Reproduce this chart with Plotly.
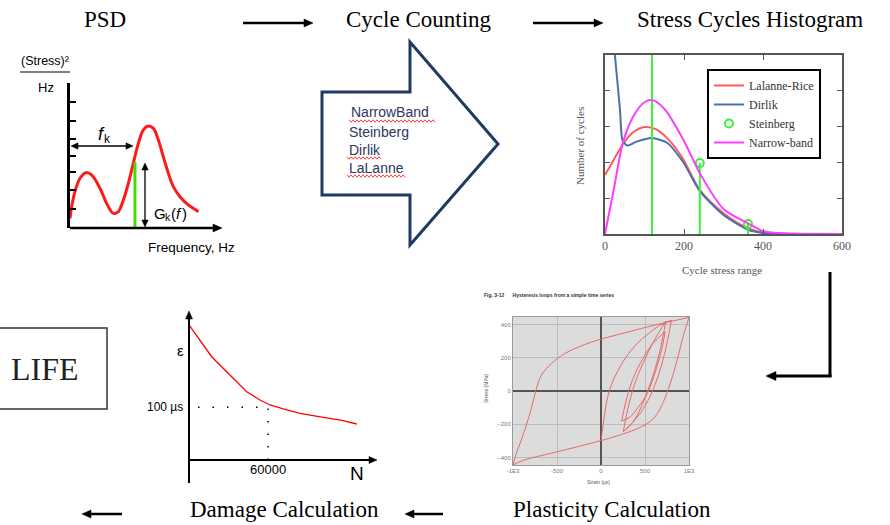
import math
import plotly.graph_objects as go

W, H = 890, 525
SERIF = "Liberation Serif"
SANS = "Liberation Sans"

# ---------------- data ----------------
# PSD sketch (frequency in arbitrary units, PSD amplitude in arbitrary units)
psd_freq = [0, 1.1, 3.3, 6.7, 10.7, 14.4, 20.0, 24.4, 28.9, 32.2, 35.6, 38.9, 42.2,
            45.6, 48.9, 52.2, 55.6, 58.9, 62.2, 65.6, 68.9, 73.3, 78.9, 85.6]
psd_value = [0.67, 1.47, 2.51, 3.43, 3.82, 3.66, 2.74, 1.70, 1.01, 1.13, 1.93, 3.08, 4.46,
             5.84, 6.76, 7.03, 6.87, 6.07, 4.92, 3.77, 2.85, 2.16, 1.59, 1.13]
psd_yticks = [1.31, 2.62, 3.86, 4.97, 6.14, 7.38, 8.69, 10.0]
psd_fk = 43.3
psd_gk = 4.55

# Cycle counting methods
methods = ["NarrowBand", "Steinberg", "Dirlik", "LaLanne"]
spell_flagged = ["NarrowBand", "Dirlik", "LaLanne"]

# Stress cycles histogram
lalanne_x = [0, 22, 46, 72, 101, 130, 164, 198, 240, 300, 362, 400, 450, 600]
lalanne_y = [1.65, 2.07, 2.52, 2.85, 2.99, 2.92, 2.60, 2.09, 1.23, 0.58, 0.16, 0.04, 0.01, 0]
dirlik_x = [15, 25, 38, 44, 56, 80, 119, 157, 199, 240, 300, 362, 400, 450, 600]
dirlik_y = [6.2, 5.0, 3.46, 2.63, 2.47, 2.58, 2.68, 2.55, 1.99, 1.20, 0.53, 0.12, 0.03, 0.01, 0]
narrow_x = [0, 22, 46, 75, 100, 119, 150, 200, 240, 300, 362, 400, 450, 500, 600]
narrow_y = [0, 1.23, 2.58, 3.35, 3.68, 3.74, 3.50, 2.60, 1.70, 0.70, 0.30, 0.08, 0.02, 0, 0]
steinberg_x = [119, 240, 362]
steinberg_y = [6.0, 1.98, 0.28]
hist_xticks = [0, 200, 400, 600]
hist_yticks = [0, 1, 2, 3, 4, 5]

# Hysteresis loops (strain, stress)
outer_up_x = [-1000, -962, -905, -848, -791, -742, -676, -562, -410, -182, 0, 273, 577, 805, 1000]
outer_up_y = [-444, -374, -294, -204, -104, 0, 96, 166, 226, 280, 312, 350, 392, 420, 442]
outer_dn_x = [1000, 937, 880, 823, 767, 710, 615, 501, 349, 159, 0, -258, -562, -865, -1000]
outer_dn_y = [442, 336, 216, 106, 16, -64, -154, -204, -240, -274, -298, -334, -374, -414, -444]
loopb_up_x = [0, 30, 70, 120, 190, 280, 400, 550, 700, 800]
loopb_up_y = [-298, -180, -50, 40, 120, 200, 280, 350, 405, 425]
loopb_dn_x = [800, 770, 720, 650, 560, 450, 330, 254]
loopb_dn_y = [425, 340, 220, 90, -30, -130, -205, -244]
loopc_up_x = [254, 300, 380, 480, 600, 736]
loopc_up_y = [-244, -120, 40, 170, 300, 420]
loopc_dn_x = [736, 705, 650, 570, 470, 360, 254]
loopc_dn_y = [420, 330, 200, 60, -80, -190, -244]
loopd_up_x = [235, 280, 360, 460, 580, 729]
loopd_up_y = [-180, -70, 70, 180, 280, 356]
loopd_dn_x = [729, 690, 620, 530, 420, 320, 235]
loopd_dn_y = [356, 250, 120, -10, -100, -160, -180]
plast_xticks = [-1000, -500, 0, 500, 1000]
plast_xlabels = ["-1E3", "-500", "0", "500", "1E3"]
plast_yticks = [-400, -200, 0, 200, 400]

# Damage (S-N style) curve
life_n = [0, 8339, 17208, 31038, 43740, 53790, 61403, 71485, 84145, 101810, 116970, 127130]
life_eps = [255.4, 227, 195.4, 160.8, 129.2, 113.5, 104.1, 96.5, 88.4, 80.8, 74.4, 68.1]
ref_n = 60000
ref_eps = 100
ref_n_start = 6800


def px(x):
    return x / W


def py(y):
    return 1 - y / H


annotations = []
shapes = []


def txt(x, y, s, size, family=SANS, color="black", xanchor="center", yanchor="middle", angle=0,
        weight="normal", style="normal"):
    annotations.append(dict(x=px(x), y=py(y), xref="paper", yref="paper", text=s, showarrow=False,
                            font=dict(family=family, size=size, color=color, weight=weight, style=style),
                            xanchor=xanchor, yanchor=yanchor, textangle=angle))


def line(x0, y0, x1, y1, width=2, color="black", dash="solid"):
    shapes.append(dict(type="line", xref="paper", yref="paper", x0=px(x0), y0=py(y0),
                       x1=px(x1), y1=py(y1), line=dict(color=color, width=width, dash=dash)))


def head(xt, yt, ux, uy, hl, hw, color):
    nx, ny = -uy, ux
    bx, by = xt - hl * ux, yt - hl * uy
    pts = [(xt, yt), (bx + hw * nx, by + hw * ny), (bx - hw * nx, by - hw * ny)]
    path = "M " + " L ".join(f"{px(a):.5f},{py(b):.5f}" for a, b in pts) + " Z"
    shapes.append(dict(type="path", xref="paper", yref="paper", path=path,
                       line=dict(color=color, width=0.5), fillcolor=color))


def arrow(x0, y0, x1, y1, width=2.5, hl=9, hw=4, color="black", both=False):
    dx, dy = x1 - x0, y1 - y0
    L = math.hypot(dx, dy)
    ux, uy = dx / L, dy / L
    sx0 = x0 + (hl * 0.7 * ux if both else 0)
    sy0 = y0 + (hl * 0.7 * uy if both else 0)
    line(sx0, sy0, x1 - hl * 0.7 * ux, y1 - hl * 0.7 * uy, width=width, color=color)
    head(x1, y1, ux, uy, hl, hw, color)
    if both:
        head(x0, y0, -ux, -uy, hl, hw, color)


def poly(points, color, width):
    path = "M " + " L ".join(f"{px(a):.5f},{py(b):.5f}" for a, b in points) + " Z"
    shapes.append(dict(type="path", xref="paper", yref="paper", path=path,
                       line=dict(color=color, width=width), fillcolor="rgba(0,0,0,0)"))


def squiggle(x0, x1, y, amp=1.2, step=2.0):
    pts = []
    x = x0
    i = 0
    while x <= x1:
        pts.append((x, y + (amp if i % 2 else -amp)))
        x += step
        i += 1
    path = "M " + " L ".join(f"{px(a):.5f},{py(b):.5f}" for a, b in pts)
    shapes.append(dict(type="path", xref="paper", yref="paper", path=path,
                       line=dict(color="#ff4040", width=1)))


fig = go.Figure()

# ---------------- PSD panel ----------------
fig.add_trace(go.Scatter(x=psd_freq, y=psd_value, mode="lines", line=dict(color="#ff1a1a", width=3, shape="spline"),
                         xaxis="x", yaxis="y", showlegend=False, hoverinfo="skip"))
fig.add_trace(go.Scatter(x=[psd_fk, psd_fk], y=[0, psd_gk], mode="lines", line=dict(color="#44dd00", width=3),
                         xaxis="x", yaxis="y", showlegend=False, hoverinfo="skip"))
arrow(70, 228, 222, 228, width=2.5, hl=9, hw=4)
arrow(71, 146, 133, 146, width=1.3, hl=7, hw=3.2, both=True)
arrow(145, 163, 145, 227, width=1.3, hl=7, hw=3.2, both=True)
# f_k label
txt(107, 134, "f", 18, style="italic", xanchor="right")
txt(101.5, 139, "k", 12, xanchor="left")
# G_k(f) label
txt(152, 213, "G", 15, xanchor="left")
txt(163, 217, "k", 10.5, xanchor="left")
txt(168.5, 213, "(", 15, xanchor="left")
txt(173.5, 213, "f", 15, style="italic", xanchor="left")
txt(179.5, 213, ")", 15, xanchor="left")
txt(19, 61, "(Stress)²", 12.5, xanchor="left")
line(20, 72, 70, 72, width=1)
txt(46, 88, "Hz", 13)
txt(146, 248, "Frequency, Hz", 13.5, xanchor="left")

# ---------------- Titles & flow arrows ----------------
txt(105, 19, "PSD", 23, family=SERIF)
txt(419, 19, "Cycle Counting", 23, family=SERIF)
txt(750, 19, "Stress Cycles Histogram", 23, family=SERIF)
arrow(243, 23, 313, 23)
arrow(533, 23, 603, 23)
txt(284, 509, "Damage Calculation", 23, family=SERIF)
txt(612, 509, "Plasticity Calculation", 23, family=SERIF)
arrow(443, 514, 405, 514)
arrow(122, 514, 82, 514)
line(830, 272, 830, 377, width=3)
arrow(831.5, 376, 766, 376, width=3, hl=10, hw=4.5)

# ---------------- Cycle counting arrow ----------------
poly([(322, 92), (410, 92), (410, 42), (498, 144), (410, 245), (410, 195), (322, 195)], "#1f3864", 3)
method_y = [112, 132, 150, 168]
method_x = [349, 347, 347, 347]
for name, yy, xx in zip(methods, method_y, method_x):
    txt(xx, yy, name, 14, color="#2e3563", xanchor="left")
underline_span = {"NarrowBand": (349, 436, 121), "Dirlik": (347, 381, 158), "LaLanne": (347, 405, 176)}
for name in spell_flagged:
    a, b, yy = underline_span[name]
    squiggle(a, b, yy)

# ---------------- Histogram ----------------
fig.add_trace(go.Scatter(x=lalanne_x, y=lalanne_y, mode="lines", name="Lalanne-Rice",
                         line=dict(color="#ff5a5a", width=2, shape="spline", smoothing=0.8),
                         xaxis="x2", yaxis="y2"))
fig.add_trace(go.Scatter(x=dirlik_x, y=dirlik_y, mode="lines", name="Dirlik",
                         line=dict(color="#4a72a8", width=2, shape="spline", smoothing=0.6),
                         xaxis="x2", yaxis="y2"))
stem_x, stem_y = [], []
for sx, sy in zip(steinberg_x, steinberg_y):
    stem_x += [sx, sx, None]
    stem_y += [0, sy, None]
fig.add_trace(go.Scatter(x=stem_x, y=stem_y, mode="lines", line=dict(color="#3cf03c", width=2),
                         xaxis="x2", yaxis="y2", showlegend=False, hoverinfo="skip"))
fig.add_trace(go.Scatter(x=steinberg_x, y=steinberg_y, mode="markers", name="Steinberg",
                         marker=dict(symbol="circle-open", size=8, color="#3cf03c", line=dict(width=2)),
                         xaxis="x2", yaxis="y2"))
fig.add_trace(go.Scatter(x=narrow_x, y=narrow_y, mode="lines", name="Narrow-band",
                         line=dict(color="#ff3cff", width=2, shape="spline", smoothing=0.8),
                         xaxis="x2", yaxis="y2"))
txt(722, 270, "Cycle stress range", 11, family=SERIF, color="#555")
txt(580, 146, "Number of cycles", 11, family=SERIF, color="#555", angle=-90)

# ---------------- Plasticity ----------------
shapes.append(dict(type="rect", xref="x3 domain", yref="y3 domain", x0=0, x1=1, y0=0, y1=1,
                   fillcolor="#dcdcdc", line=dict(width=0), layer="below"))
for bx, by in [(outer_up_x, outer_up_y), (outer_dn_x, outer_dn_y), (loopb_up_x, loopb_up_y),
               (loopb_dn_x, loopb_dn_y), (loopc_up_x, loopc_up_y), (loopc_dn_x, loopc_dn_y),
               (loopd_up_x, loopd_up_y), (loopd_dn_x, loopd_dn_y)]:
    fig.add_trace(go.Scatter(x=bx, y=by, mode="lines", line=dict(color="#e46a6a", width=1, shape="spline"),
                             xaxis="x3", yaxis="y3", showlegend=False, hoverinfo="skip"))
txt(482, 295, "Fig. 3-12      Hysteresis loops from a simple time series", 5, color="#333", xanchor="left",
    weight="bold")
txt(486, 388, "Stress (MPa)", 5, color="#555", angle=-90)
txt(598, 482, "Strain (µε)", 5, color="#555")

# ---------------- Damage ----------------
fig.add_trace(go.Scatter(x=life_n, y=life_eps, mode="lines", line=dict(color="#ff0000", width=1.3),
                         xaxis="x4", yaxis="y4", showlegend=False, hoverinfo="skip"))
shapes.append(dict(type="line", xref="x4", yref="y4", x0=ref_n_start, x1=ref_n, y0=ref_eps, y1=ref_eps,
                   line=dict(color="black", width=1.5, dash="1.5px,13px")))
shapes.append(dict(type="line", xref="x4", yref="y4", x0=ref_n, x1=ref_n, y0=0, y1=ref_eps,
                   line=dict(color="black", width=1.5, dash="1.5px,11px")))
arrow(189, 483, 189, 311, width=2, hl=8, hw=3.5)
arrow(188, 460, 377, 460, width=2, hl=8, hw=3.5)
txt(180, 350, "ε", 15)
txt(185, 407, "100 µs", 12, xanchor="right")
txt(268, 469, "60000", 13)
txt(357, 474, "N", 19)

# ---------------- LIFE box ----------------
shapes.append(dict(type="rect", xref="paper", yref="paper", x0=px(-3), x1=px(107), y0=py(409), y1=py(328),
                   line=dict(color="#333", width=1.5)))
txt(45, 369, "LIFE", 32, family=SERIF, color="#222")

fig.update_layout(
    width=W, height=H, margin=dict(l=0, r=0, t=0, b=0),
    paper_bgcolor="white", plot_bgcolor="white", template="none",
    showlegend=True,
    legend=dict(x=px(707), y=py(69), xanchor="left", yanchor="top", bgcolor="white",
                bordercolor="black", borderwidth=2, font=dict(family=SERIF, size=12, color="#333"),
                tracegroupgap=0),
    xaxis=dict(domain=[px(70), px(220)], range=[0, 100], visible=False, anchor="y"),
    yaxis=dict(domain=[py(228), py(83)], range=[0, 10], showline=True, linewidth=3, linecolor="black",
               ticks="inside", tickvals=psd_yticks, ticklen=6, tickwidth=2, tickcolor="black",
               showticklabels=False, showgrid=False, zeroline=False, anchor="x"),
    xaxis2=dict(domain=[px(605), px(842)], range=[0, 600], anchor="y2", showline=True, mirror="ticks",
                linecolor="#555", linewidth=1.5, ticks="inside", tickvals=hist_xticks, ticklen=5,
                tickcolor="#555", showgrid=False, zeroline=False,
                tickfont=dict(family=SERIF, size=12, color="#555")),
    yaxis2=dict(domain=[py(234), py(55)], range=[0, 5], anchor="x2", showline=True, mirror="ticks",
                linecolor="#555", linewidth=1.5, ticks="inside", tickvals=hist_yticks, ticklen=5,
                tickcolor="#555", showticklabels=False, showgrid=False, zeroline=False),
    xaxis3=dict(domain=[px(513), px(689)], range=[-1000, 1000], anchor="y3", showline=True, mirror=True,
                linecolor="#9a9a9a", linewidth=1, tickvals=plast_xticks, ticktext=plast_xlabels,
                ticks="", showgrid=True, gridcolor="#bdbdbd", zeroline=True, zerolinecolor="#555",
                zerolinewidth=1.5, tickfont=dict(family=SANS, size=6, color="#777")),
    yaxis3=dict(domain=[py(465), py(317)], range=[-445, 445], anchor="x3", showline=True, mirror=True,
                linecolor="#9a9a9a", linewidth=1, tickvals=plast_yticks,
                ticks="", showgrid=True, gridcolor="#bdbdbd", zeroline=True, zerolinecolor="#555",
                zerolinewidth=1.5, tickfont=dict(family=SANS, size=6, color="#777")),
    xaxis4=dict(domain=[px(189), px(375)], range=[0, 141000], anchor="y4", visible=False),
    yaxis4=dict(domain=[py(460), py(312)], range=[0, 280], anchor="x4", visible=False),
    annotations=annotations,
    shapes=shapes,
)

fig.write_html("out.html")
